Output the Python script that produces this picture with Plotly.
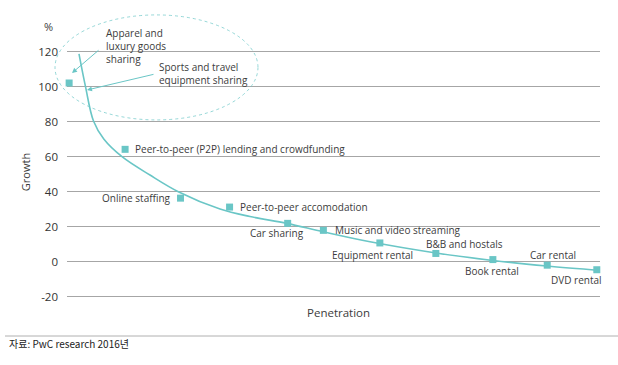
import plotly.graph_objects as go

# Data (penetration on an arbitrary 0-100 scale, growth in %)
categories = [
    "Apparel and luxury goods sharing",
    "Peer-to-peer (P2P) lending and crowdfunding",
    "Online staffing",
    "Peer-to-peer accomodation",
    "Car sharing",
    "Music and video streaming",
    "Equipment rental",
    "B&B and hostals",
    "Book rental",
    "Car rental",
    "DVD rental",
]
penetration = [0.4, 10.9, 21.3, 30.5, 41.4, 48.1, 58.7, 69.2, 79.9, 90.1, 99.4]
growth = [102, 64.1, 36.2, 31.1, 21.8, 17.8, 10.6, 4.6, 1.1, -2.1, -4.7]

# Trend curve
curve_x = [2.25, 3.47, 4.97, 6.9, 10.32, 15.57, 20.88, 28.71, 34.33, 41.22,
           48.09, 56.85, 69.23, 79.92, 90.06, 100]
curve_y = [118.6, 99.9, 80.3, 70.0, 59.9, 49.4, 39.9, 30.0, 25.7, 21.8,
           17.0, 11.3, 4.9, 0.6, -2.6, -5.1]

y_ticks = [-20, 0, 20, 40, 60, 80, 100, 120]
y_tick_text = ["-20", "0", "20", "40", "60", "80", "100", "120"]

TEAL = "#6ac6c6"
TXT = "#3c3c3c"
FONT = "Open Sans"

fig = go.Figure()
fig.add_trace(go.Scatter(
    x=curve_x, y=curve_y, mode="lines",
    line=dict(color=TEAL, width=1.6, shape="spline", smoothing=1.0),
    hoverinfo="skip", showlegend=False, cliponaxis=False,
))
fig.add_trace(go.Scatter(
    x=penetration, y=growth, mode="markers",
    marker=dict(symbol="square", size=7, color=TEAL),
    text=categories, showlegend=False, cliponaxis=False,
))

# label placement (anchor, xshift, yshift) per point; first point is handled by callout
label_style = {
    1: ("left", 8, 0),
    2: ("right", -8, 0),
    3: ("left", 8, 0),
    4: ("center", -11, -9.5),
    5: ("left", 10, 0),
    6: ("center", -7.5, -12),
    7: ("center", 28.5, 9),
    8: ("center", -0.5, -11.7),
    9: ("center", 5.7, 10.4),
    10: ("center", -20.7, -10.7),
}
annotations = []
for i, (anc, xs, ys) in label_style.items():
    annotations.append(dict(
        x=penetration[i], y=growth[i], xref="x", yref="y", text=categories[i],
        showarrow=False, xanchor=anc, yanchor="middle", xshift=xs, yshift=ys,
        font=dict(family=FONT, size=10, color=TXT),
    ))

# callouts in the ellipse (paper coordinates)
annotations += [
    dict(x=0.0694, y=1.0076, xref="paper", yref="paper",
         text="Apparel and<br>luxury goods<br>sharing",
         showarrow=False, xanchor="left", yanchor="middle", align="left",
         font=dict(family=FONT, size=10, color=TXT)),
    dict(x=0.169, y=0.9007, xref="paper", yref="paper",
         text="Sports and travel<br>equipment sharing",
         showarrow=False, xanchor="left", yanchor="middle", align="left",
         font=dict(family=FONT, size=10, color=TXT)),
    dict(x=0.0094, y=0.9007, ax=28, ay=-24, xref="paper", yref="paper",
         axref="pixel", ayref="pixel", standoff=0,
         text="", showarrow=True, arrowhead=2, arrowsize=1, arrowwidth=1, arrowcolor=TEAL),
    dict(x=0.0375, y=0.8333, ax=68, ay=-16, xref="paper", yref="paper",
         axref="pixel", ayref="pixel", standoff=0,
         text="", showarrow=True, arrowhead=2, arrowsize=1, arrowwidth=1, arrowcolor=TEAL),
    # axis captions
    dict(x=-0.0347, y=1.0873, xref="paper", yref="paper", text="%", showarrow=False,
         xanchor="center", yanchor="middle", font=dict(family=FONT, size=11, color=TXT)),
    dict(x=-0.079, y=0.5069, xref="paper", yref="paper", text="Growth", showarrow=False,
         textangle=-90, xanchor="center", yanchor="middle",
         font=dict(family=FONT, size=11, color=TXT)),
    dict(x=0.51, y=-0.0486, xref="paper", yref="paper", text="Penetration", showarrow=False,
         xanchor="center", yanchor="middle", font=dict(family=FONT, size=11.5, color=TXT)),
    dict(x=-0.113, y=-0.1729, xref="paper", yref="paper", text="자료: PwC research 2016년",
         showarrow=False, xanchor="left", yanchor="middle",
         font=dict(family="Noto Sans CJK KR", size=10, color="#222222")),
]

shapes = [
    dict(type="circle", xref="paper", yref="paper", x0=-0.0225, x1=0.3583, y0=0.7146, y1=1.1313,
         line=dict(color="rgba(106,198,198,0.7)", width=1, dash="dot")),
    dict(type="line", xref="paper", yref="paper", x0=-0.1163, x1=1.034, y0=-0.1429, y1=-0.1429,
         line=dict(color="#b0b0b0", width=1)),
]

fig.update_layout(
    width=618, height=365,
    margin=dict(l=67, r=18, t=48, b=65),
    paper_bgcolor="white", plot_bgcolor="white",
    showlegend=False,
    annotations=annotations, shapes=shapes,
    xaxis=dict(range=[0, 100], showgrid=False, zeroline=False, showticklabels=False,
               showline=False, fixedrange=True),
    yaxis=dict(range=[-22, 122], tickvals=y_ticks, ticktext=y_tick_text,
               showgrid=True, gridcolor="#a6a6a6",
               gridwidth=1, zeroline=False, showline=False, ticks="",
               ticklabelstandoff=8,
               tickfont=dict(family=FONT, size=11.5, color="#333333")),
)

fig.write_html("out.html")
